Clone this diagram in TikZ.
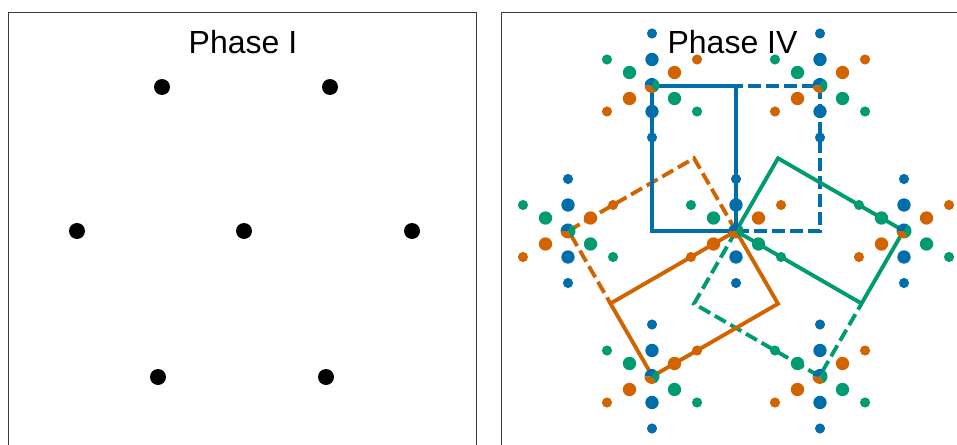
\documentclass[tikz,border=0pt]{standalone}
\usepackage{fontspec}
\setmainfont{Liberation Sans}
\definecolor{cblue}{RGB}{0,110,170}
\definecolor{corange}{RGB}{210,100,0}
\definecolor{cgreen}{RGB}{0,155,112}
\definecolor{framegray}{RGB}{60,60,60}
\begin{document}
\begin{tikzpicture}[x=0.75pt,y=0.75pt,
  panel/.style={draw=framegray,line width=1.3pt},
  title/.style={font=\fontsize{24}{28}\selectfont, anchor=base, inner sep=0pt},
  rectline/.style={line width=2.9pt, line join=miter},
  dashline/.style={rectline, dash pattern=on 9.5pt off 4pt}]
\useasboundingbox (0,0) rectangle (957,444);
\clip (0,0) rectangle (957,444);
\fill[white] (0,0) rectangle (957,444);
% panel frames
\draw[panel] (8.5,-10) -- (8.5,431.5) -- (476.5,431.5) -- (476.5,-10);
\draw[panel] (501.5,-10) -- (501.5,431.5) -- (985,431.5) -- (985,-10);
% titles
\node[title] (t1) at (243,391) {Phase I};
\node[title] (t4) at (732.5,391) {Phase IV};
% Phase I lattice
\foreach \px/\py in {162/357, 330/357, 77/213, 244/213, 412/213, 158/67, 326/67}
  \fill (\px,\py) circle[radius=6pt];
% Phase IV rectangles
\begin{scope}[shift={(736,213)}]
  \foreach \r/\c in {0/cblue,120/corange,-120/cgreen} {
    \draw[dashline,\c,rotate=\r] (0,0) -- (84,0) -- (84,145) -- (0,145);
  }
  \foreach \r/\c in {0/cblue,120/corange,-120/cgreen} {
    \draw[rectline,\c,rotate=\r] (0,0) -- (0,145) -- (-84,145) -- (-84,0) -- cycle;
  }
\end{scope}
% Phase IV dot clusters
\foreach \px/\py in {0/0, 168/0, 84/145.5, -84/145.5, -168/0, -84/-145.5, 84/-145.5} {
  \begin{scope}[shift={(736+\px,213+\py)}]
    \foreach \ang/\c in {90/cblue,30/corange,150/cgreen} {
      \fill[\c] (\ang:26) circle[radius=5pt];
      \fill[\c] (\ang+180:26) circle[radius=5pt];
      \fill[\c] (\ang:52) circle[radius=3.8pt];
      \fill[\c] (\ang+180:52) circle[radius=3.8pt];
    }
    \fill[cblue] (0,0) -- (60:7.5) arc[start angle=60,end angle=180,radius=5.625pt] -- cycle;
    \fill[corange] (0,0) -- (180:7.5) arc[start angle=180,end angle=300,radius=5.625pt] -- cycle;
    \fill[cgreen] (0,0) -- (300:7.5) arc[start angle=300,end angle=420,radius=5.625pt] -- cycle;
  \end{scope}
}
\end{tikzpicture}
\end{document}
